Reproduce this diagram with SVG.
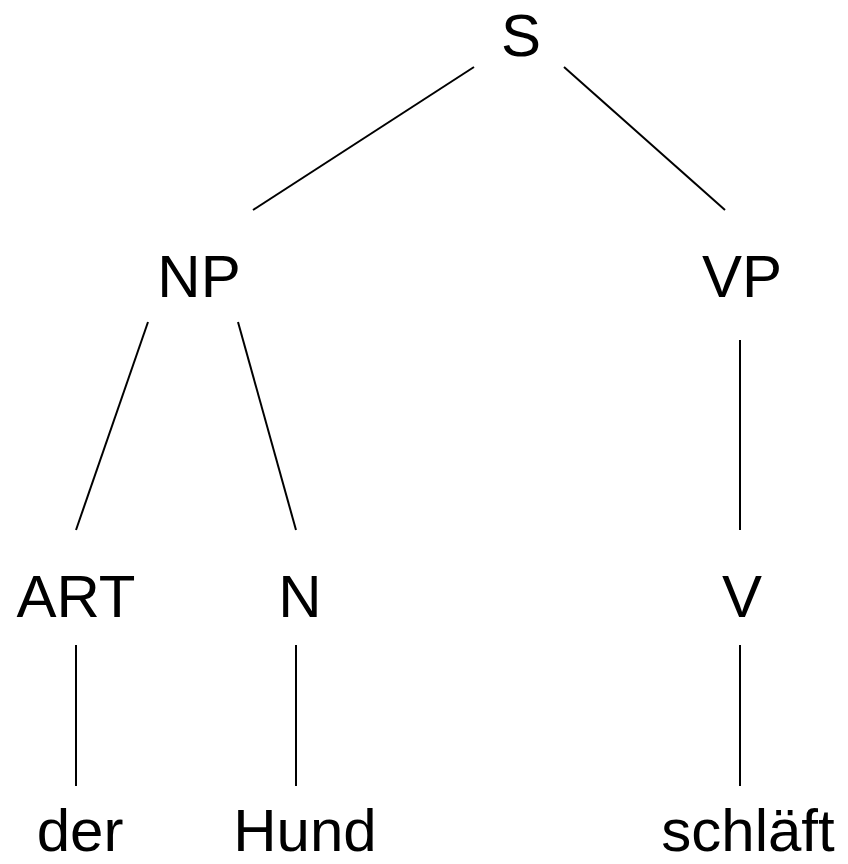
<svg xmlns="http://www.w3.org/2000/svg" width="848" height="864" viewBox="0 0 848 864">
<style>
text{font-family:"Liberation Sans",Arial,sans-serif;font-size:60px;fill:#000;text-anchor:middle}
line{stroke:#000;stroke-width:2}
</style>
<rect width="848" height="864" fill="#fff"/>
<g id="connectors">
<line x1="474" y1="67" x2="253" y2="210"/>
<line x1="564" y1="67" x2="725" y2="210"/>
<line x1="148" y1="322" x2="76" y2="530"/>
<line x1="238" y1="322" x2="296" y2="530"/>
<line x1="740" y1="340" x2="740" y2="530"/>
<line x1="76" y1="645" x2="76" y2="786"/>
<line x1="296" y1="645" x2="296" y2="786"/>
<line x1="740" y1="645" x2="740" y2="786"/>
</g>
<g id="S"><text x="521" y="56">S</text></g>
<g id="NP"><text x="199" y="297">NP</text></g>
<g id="VP"><text x="742" y="297">VP</text></g>
<g id="ART"><text x="76" y="617">ART</text></g>
<g id="N"><text x="300" y="617">N</text></g>
<g id="V"><text x="742" y="617">V</text></g>
<g id="der"><text x="80" y="851">der</text></g>
<g id="Hund"><text x="305" y="851">Hund</text></g>
<g id="schlaeft"><text x="748" y="851">schläft</text></g>
</svg>
